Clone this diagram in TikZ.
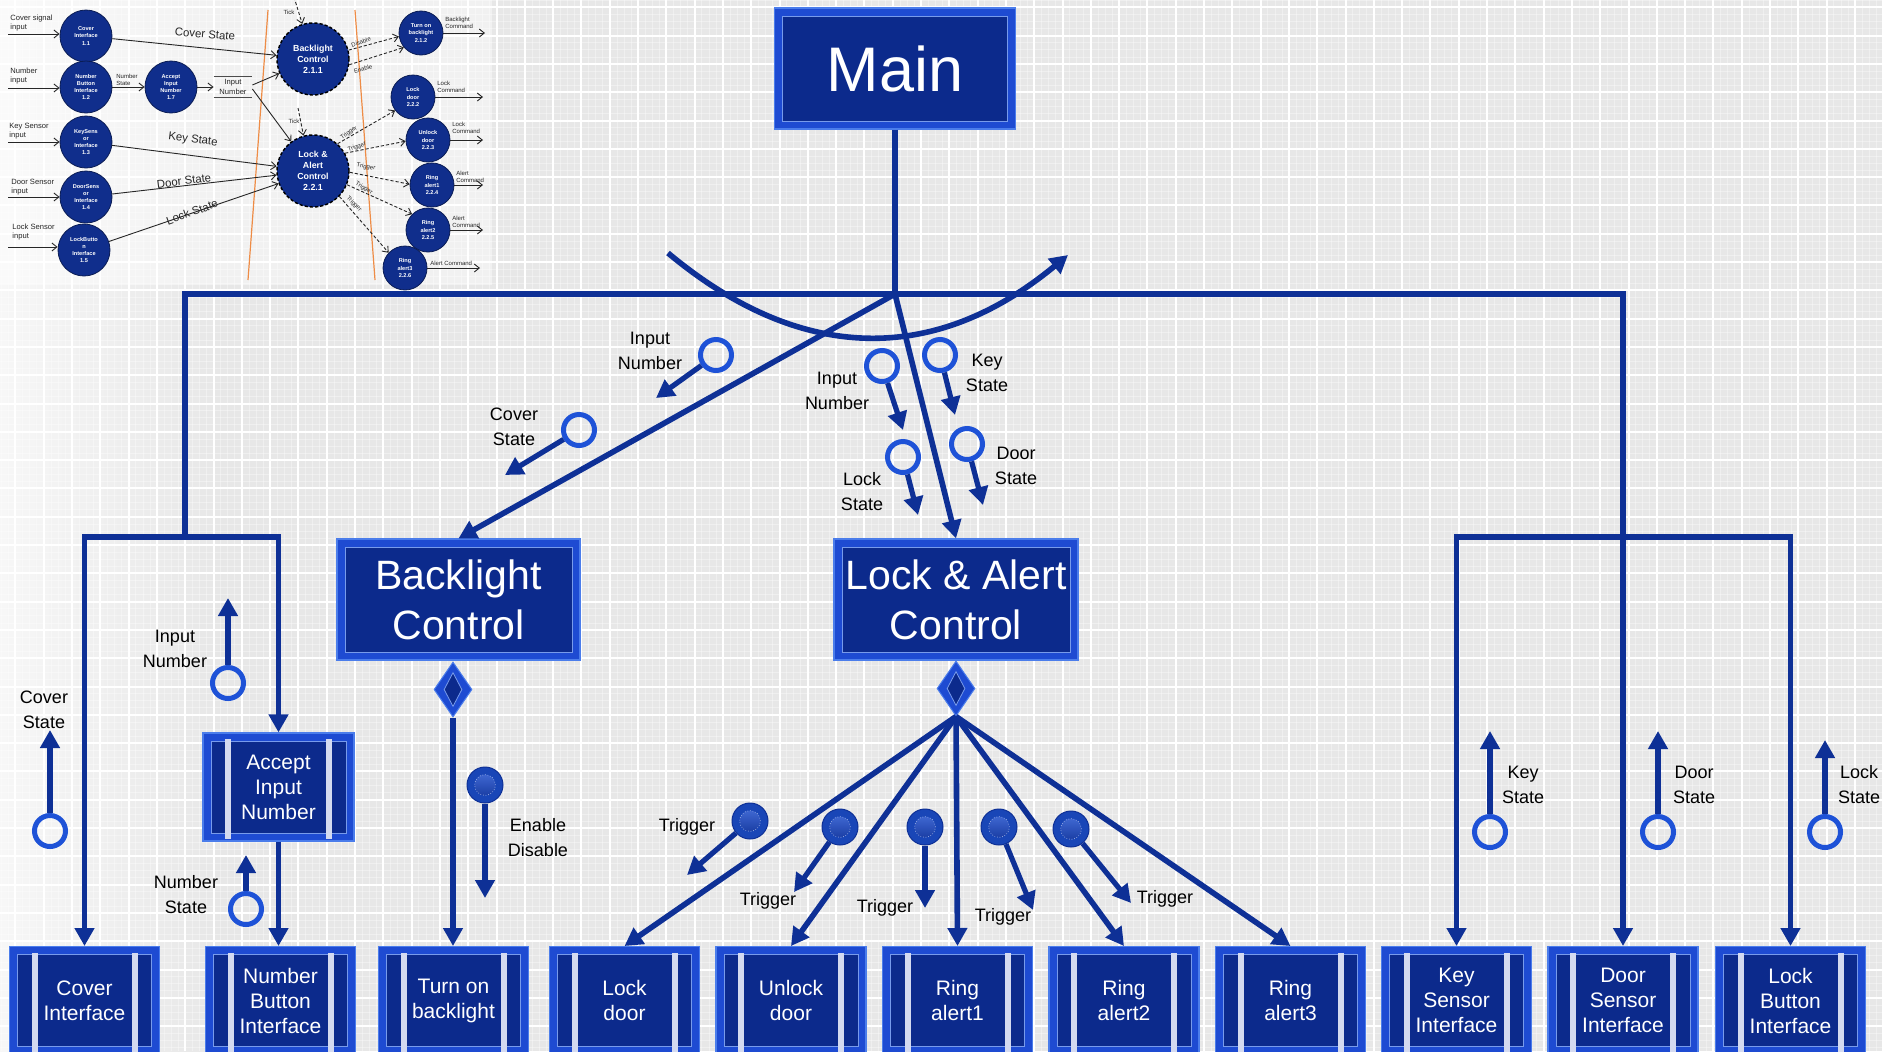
\documentclass[tikz,border=0pt]{standalone}
\usepackage{fontspec}
\setmainfont{Liberation Sans}
\usetikzlibrary{arrows.meta,shapes.geometric,calc}

\definecolor{bg}{RGB}{231,231,231}
\definecolor{bgl}{RGB}{247,247,247}
\definecolor{conn}{RGB}{14,48,150}
\definecolor{ring}{RGB}{30,82,215}
\definecolor{bxdark}{RGB}{12,42,140}
\definecolor{bxmid}{RGB}{30,75,210}
\definecolor{bxedge}{RGB}{75,125,235}
\definecolor{bxline}{RGB}{120,155,235}
\definecolor{barc}{RGB}{212,218,240}
\definecolor{dfd}{RGB}{16,46,140}
\definecolor{orng}{RGB}{238,140,70}

\newcommand\bevelpic{\draw[bxline, line width=0.4pt, fill=bxdark] ([shift={(4pt,-4pt)}]path picture bounding box.north west) rectangle ([shift={(-4pt,4pt)}]path picture bounding box.south east);}
\newcommand\barpic{\fill[barc] ([shift={(11pt,-3pt)}]path picture bounding box.north west) rectangle ([shift={(14pt,1pt)}]path picture bounding box.south west);
 \fill[barc] ([shift={(-11pt,-3pt)}]path picture bounding box.north east) rectangle ([shift={(-14pt,1pt)}]path picture bounding box.south east);}

\tikzset{
 bevel/.style={draw=bxedge, line width=0.6pt, fill=bxmid, text=white, align=center, inner sep=0pt, path picture={\bevelpic}},
 barbox/.style={draw=bxedge, line width=0.6pt, fill=bxmid, text=white, align=center, inner sep=0pt, path picture={\bevelpic\barpic},
   font=\fontsize{10.5}{12.5}\selectfont},
 botbox/.style={barbox, minimum width=75pt, minimum height=54pt, anchor=north},
 dmd/.style={diamond, draw=bxedge, line width=0.5pt, fill=bxmid, minimum width=19pt, minimum height=27.5pt, inner sep=0pt},
 dmdin/.style={diamond, draw=bxline, line width=0.4pt, fill=bxdark, minimum width=9pt, minimum height=17pt, inner sep=0pt},
 oring/.style={circle, draw=ring, line width=2.5pt, minimum size=15.5pt, inner sep=0pt},
 fring/.style={circle, fill=ring!85!black, draw=conn, line width=0.5pt, minimum size=18pt, inner sep=0pt,
   path picture={\draw[densely dotted, white!75!ring, line width=0.3pt, top color=ring!80!white, bottom color=conn] (path picture bounding box.center) circle[radius=5.2pt];}},
 lbl/.style={font=\fontsize{9}{12.5}\selectfont, align=center, text=black, inner sep=0pt},
 bus/.style={draw=conn, line width=2.8pt},
 barr/.style={bus, -{Triangle[length=9pt,width=9.5pt]}},
 carr/.style={draw=conn, line width=2.6pt, -{Triangle[length=9pt,width=9.5pt]}},
 ic/.style={circle, fill=dfd, draw=dfd!60!black, line width=0.4pt, text=white, align=center, inner sep=0pt, font=\fontsize{2.8}{3.6}\selectfont\bfseries, minimum size=26pt},
 ics/.style={ic, minimum size=22pt},
 icbig/.style={ic, draw=black, dash pattern=on 1.6pt off 1pt, line width=0.7pt, minimum size=36pt, font=\fontsize{4.4}{5.5}\selectfont\bfseries},
 iarr/.style={draw=black!85, line width=0.45pt, -{Straight Barb[length=2.5pt,width=4pt]}},
 idash/.style={iarr, dash pattern=on 1.6pt off 1pt},
 itxt/.style={text=black!85, inner sep=0pt, align=left, font=\fontsize{3.8}{4.6}\selectfont},
 iflow/.style={text=black!85, inner sep=0pt, font=\fontsize{5.7}{6.5}\selectfont},
 itiny/.style={text=black!85, inner sep=0pt, align=left, font=\fontsize{3}{3.6}\selectfont}
}

\begin{document}
\begin{tikzpicture}[x=0.5pt,y=-0.5pt]
\useasboundingbox (0,0) rectangle (1884,1051);
% background
\fill[bg] (0,0) rectangle (1884,1051);
\shade[left color=bgl, right color=bg] (0,0) rectangle (220,1051);
\foreach \i in {0,...,267} \draw[white, opacity=.35, line width=.25pt] ({1.25+\i*7.075},0) -- ({1.25+\i*7.075},1051);
\foreach \j in {0,...,149} \draw[white, opacity=.35, line width=.25pt] (0,{0.2+\j*7.075}) -- (1884,{0.2+\j*7.075});
\foreach \i in {0,...,66} \draw[white, line width=1pt] ({15.4+\i*28.3},0) -- ({15.4+\i*28.3},1051);
\foreach \j in {0,...,37} \draw[white, line width=1pt] (0,{7.3+\j*28.3}) -- (1884,{7.3+\j*28.3});

% ---------- inset data flow diagram ----------
\fill[white, opacity=.45] (0,0) rectangle (492,285);
\draw[orng, line width=0.6pt] (268,10) -- (248,280);
\draw[orng, line width=0.6pt] (355,10) -- (375,280);

\node[ic] (i11) at (86,36) {Cover\\Interface\\1.1};
\node[ic] (i12) at (86,87) {Number\\Button\\Interface\\1.2};
\node[ic] (i17) at (171,87) {Accept\\Input\\Number\\1.7};
\node[ic] (i13) at (86,142) {KeySens\\or\\Interface\\1.3};
\node[ic] (i14) at (86,197) {DoorSens\\or\\Interface\\1.4};
\node[ic] (i15) at (84,250) {LockButto\\n\\Interface\\1.5};
\node[icbig] (iBL) at (313,59) {Backlight\\Control\\2.1.1};
\node[icbig] (iLA) at (313,171) {Lock \&\\Alert\\Control\\2.2.1};
\node[ics] (i212) at (421,33) {Turn on\\backlight\\2.1.2};
\node[ics] (i222) at (413,97) {Lock\\door\\2.2.2};
\node[ics] (i223) at (428,140) {Unlock\\door\\2.2.3};
\node[ics] (i224) at (432,185) {Ring\\alert1\\2.2.4};
\node[ics] (i225) at (428,230) {Ring\\alert2\\2.2.5};
\node[ics] (i226) at (405,268) {Ring\\alert3\\2.2.6};

% inputs
\coordinate (in1) at (8,34); \coordinate (in2) at (8,88); \coordinate (in3) at (8,142);
\coordinate (in4) at (8,197); \coordinate (in5) at (8,247);
\draw[iarr] (in1) -- (in1 -| i11.west);
\draw[iarr] (in2) -- (in2 -| i12.west);
\draw[iarr] (in3) -- (in3 -| i13.west);
\draw[iarr] (in4) -- (in4 -| i14.west);
\draw[iarr] (in5) -- (in5 -| i15.west);
\node[itxt, anchor=west] (tin1) at (10,23) {Cover signal\\input};
\node[itxt, anchor=west] (tin2) at (10,76) {Number\\input};
\node[itxt, anchor=west] (tin3) at (9,131) {Key Sensor\\input};
\node[itxt, anchor=west] (tin4) at (11,187) {Door Sensor\\input};
\node[itxt, anchor=west] (tin5) at (12,232) {Lock Sensor\\input};

% flows
\draw[iarr] (i11) -- (iBL);
\node[iflow, rotate=-5] (tf1) at (205,34) {Cover State};
\draw[iarr] (i12) -- (i17);
\node[itiny, anchor=west] (tf2) at (116,80) {Number\\State};
\node[itxt, align=center, minimum width=19pt, minimum height=10pt] (iStore) at (233,87) {Input\\Number};
\draw[black!70, line width=0.4pt] (iStore.north west) -- (iStore.north east);
\draw[black!70, line width=0.4pt] (iStore.south west) -- (iStore.south east);
\draw[iarr] (i17) -- (iStore.west);
\draw[iarr] ([yshift=1pt]iStore.east) -- (iBL);
\draw[iarr] ([yshift=-1pt]iStore.east) -- (iLA);
\draw[iarr] (i13) -- (iLA);
\node[iflow, rotate=-7] (tf3) at (193,140) {Key State};
\draw[iarr] (i14) -- (iLA);
\node[iflow, rotate=7] (tf4) at (184,181) {Door State};
\draw[iarr] (i15) -- (iLA.200);
\node[iflow, rotate=20] (tf5) at (192,212) {Lock State};
% ticks
\coordinate (tk1) at (294,-3); \coordinate (tk2) at (298,108);
\draw[idash] (tk1) -- (iBL.107);
\draw[idash] (tk2) -- (iLA.105);
\node[itiny] (ttk1) at (289,12) {Tick};
\node[itiny] (ttk2) at (294,121) {Tick};
% control flows
\draw[idash] (iBL.14) -- (i212.189);
\draw[idash] (iBL.-9) -- (i212.220);
\node[itiny, rotate=18] (td1) at (361,42) {Disable};
\node[itiny, rotate=15] (td2) at (363,69) {Enable};
\draw[idash] (iLA.48) -- (i222.217);
\draw[idash] (iLA.29) -- (i223.183);
\draw[idash] (iLA.-2) -- (i224.178);
\draw[idash] (iLA.-22) -- (i225.135);
\draw[idash] (iLA.-44) -- (i226.137);
\node[itiny, rotate=35] (tt1) at (349,133) {Trigger};
\node[itiny, rotate=20] (tt2) at (357,147) {Trigger};
\node[itiny, rotate=-10] (tt3) at (366,167) {Trigger};
\node[itiny, rotate=-30] (tt4) at (364,188) {Trigger};
\node[itiny, rotate=-45] (tt5) at (354,204) {Trigger};
% outputs
\coordinate (o1) at (485,33); \coordinate (o2) at (483,97); \coordinate (o3) at (483,140);
\coordinate (o4) at (483,185); \coordinate (o5) at (483,230); \coordinate (o6) at (480,268);
\draw[iarr] (i212.east) -- (o1);
\draw[iarr] (i222.east) -- (o2);
\draw[iarr] (i223.east) -- (o3);
\draw[iarr] (i224.east) -- (o4);
\draw[iarr] (i225.east) -- (o5);
\draw[iarr] (i226.east) -- (o6);
\node[itiny, anchor=west] (to1) at (445,23) {Backlight\\Command};
\node[itiny, anchor=west] (to2) at (437,87) {Lock\\Command};
\node[itiny, anchor=west] (to3) at (452,128) {Lock\\Command};
\node[itiny, anchor=west] (to4) at (456,177) {Alert\\Command};
\node[itiny, anchor=west] (to5) at (452,222) {Alert\\Command};
\node[itiny, anchor=west] (to6) at (430,263) {Alert Command};

% ---------- structure chart ----------
\node[bevel, minimum width=120.5pt, minimum height=60.5pt, font=\fontsize{31.5}{36}\selectfont] (Main) at (895,68.5) {Main};
\node[bevel, minimum width=121.5pt, minimum height=60.5pt, font=\fontsize{20.5}{25}\selectfont] (BL) at (458.5,599.5) {Backlight\\Control};
\node[bevel, minimum width=122pt, minimum height=60.5pt, font=\fontsize{20.5}{25}\selectfont] (LA) at (956,599.5) {Lock \& Alert\\Control};
\node[barbox, minimum width=75.5pt, minimum height=54pt] (Acc) at (278.5,787) {Accept\\Input\\Number};

\node[botbox] (bCover) at (84.5,946) {Cover\\Interface};
\node[botbox] (bNum) at (280.5,946) {Number\\Button\\Interface};
\node[botbox] (bTurn) at (453.5,946) {Turn on\\backlight};
\node[botbox] (bLockD) at (624.5,946) {Lock\\door};
\node[botbox] (bUnlock) at (791,946) {Unlock\\door};
\node[botbox] (bRing1) at (957.5,946) {Ring\\alert1};
\node[botbox] (bRing2) at (1124,946) {Ring\\alert2};
\node[botbox] (bRing3) at (1290.5,946) {Ring\\alert3};
\node[botbox] (bKey) at (1456.5,946) {Key\\Sensor\\Interface};
\node[botbox] (bDoor) at (1623,946) {Door\\Sensor\\Interface};
\node[botbox] (bLockB) at (1790.5,946) {Lock\\Button\\Interface};

\node[dmd] (dBL) at (453,689.5) {};
\node[dmdin] (dBLi) at (dBL) {};
\node[dmd] (dLA) at (956,688.5) {};
\node[dmdin] (dLAi) at (dLA) {};

% junctions
\coordinate (j0) at (895,294);
\coordinate (jL) at (185,294);
\coordinate (jL2) at (185,537);
\coordinate (jR) at (1623,294);
\coordinate (jR2) at (1623,537);

\draw[bus] (Main.south) -- (j0);
\draw[barr] (jL2) |- (jR) -- (bDoor.north);
\draw[barr] (jL2) -| (bCover.north);
\draw[barr] (jL2) -| (Acc.north);
\draw[barr] (jR2) -| (bKey.north);
\draw[barr] (jR2) -| (bLockB.north);
\draw[barr] (j0) -- (BL.north);
\draw[barr] (j0) -- (LA.north);
\draw[barr] (Acc.south) -- (Acc.south |- bNum.north);
\draw[barr] (dBL.south) -- (dBL.south |- bTurn.north);
\foreach \b in {bLockD,bUnlock,bRing1,bRing2,bRing3} \draw[barr] (dLA.south) -- (\b.north);

% iteration arc
\coordinate (arcS) at (668,253);
\coordinate (arcE) at (1068,255);
\draw[barr] (arcS) .. controls (801,364) and (935,365) .. (arcE);

% data couples
\node[oring] (cIN1) at (716,355) {};  \coordinate (eIN1) at (656,398);
\node[oring] (cCS1) at (579,430) {};  \coordinate (eCS1) at (505,475);
\node[oring] (cIN2) at (882,366) {};  \coordinate (eIN2) at (903,430);
\node[oring] (cKS1) at (940,355) {};  \coordinate (eKS1) at (955,415);
\node[oring] (cLS1) at (903,457) {};  \coordinate (eLS1) at (918,515);
\node[oring] (cDS1) at (967,444) {};  \coordinate (eDS1) at (983,505);
\node[oring] (cIN3) at (228,683) {};  \coordinate (eIN3) at (228,598);
\node[oring] (cCS2) at (50,831) {};   \coordinate (eCS2) at (50,730);
\node[oring] (cNS) at (246,909) {};   \coordinate (eNS) at (246,855);
\node[oring] (cKS2) at (1490,832) {}; \coordinate (eKS2) at (1490,731);
\node[oring] (cDS2) at (1658,832) {}; \coordinate (eDS2) at (1658,731);
\node[oring] (cLS2) at (1825,832) {}; \coordinate (eLS2) at (1825,740);
\foreach \c in {IN1,CS1,IN2,KS1,LS1,DS1,IN3,CS2,NS,KS2,DS2,LS2} \draw[carr] (c\c) -- (e\c);

% control couples
\node[fring] (cEN) at (485,785) {};  \coordinate (eEN) at (485,898);
\node[fring] (ct1) at (750,821) {};  \coordinate (et1) at (687,875);
\node[fring] (ct2) at (840,827) {};  \coordinate (et2) at (794,892);
\node[fring] (ct3) at (925,827) {};  \coordinate (et3) at (925,908);
\node[fring] (ct4) at (999,827) {};  \coordinate (et4) at (1033,910);
\node[fring] (ct5) at (1071,829) {}; \coordinate (et5) at (1131,903);
\draw[carr] (cEN) -- (eEN);
\draw[carr] (ct1) -- (et1);
\draw[carr] (ct2) -- (et2);
\draw[carr] (ct3) -- (et3);
\draw[carr] (ct4) -- (et4);
\draw[carr] (ct5) -- (et5);

% labels
\node[lbl] (lIN1) at (650,351) {Input\\Number};
\node[lbl] (lCS1) at (514,427) {Cover\\State};
\node[lbl] (lIN2) at (837,391) {Input\\Number};
\node[lbl] (lKS1) at (987,373) {Key\\State};
\node[lbl] (lLS1) at (862,492) {Lock\\State};
\node[lbl] (lDS1) at (1016,466) {Door\\State};
\node[lbl] (lIN3) at (175,649) {Input\\Number};
\node[lbl] (lCS2) at (44,710) {Cover\\State};
\node[lbl] (lNS) at (186,895) {Number\\State};
\node[lbl] (lEN) at (538,838) {Enable\\Disable};
\node[lbl] (lKS2) at (1523,785) {Key\\State};
\node[lbl] (lDS2) at (1694,785) {Door\\State};
\node[lbl] (lLS2) at (1859,785) {Lock\\State};
\node[lbl] (lT1) at (687,827) {Trigger};
\node[lbl] (lT2) at (768,901) {Trigger};
\node[lbl] (lT3) at (885,908) {Trigger};
\node[lbl] (lT4) at (1003,917) {Trigger};
\node[lbl] (lT5) at (1165,899) {Trigger};
\end{tikzpicture}
\end{document}
